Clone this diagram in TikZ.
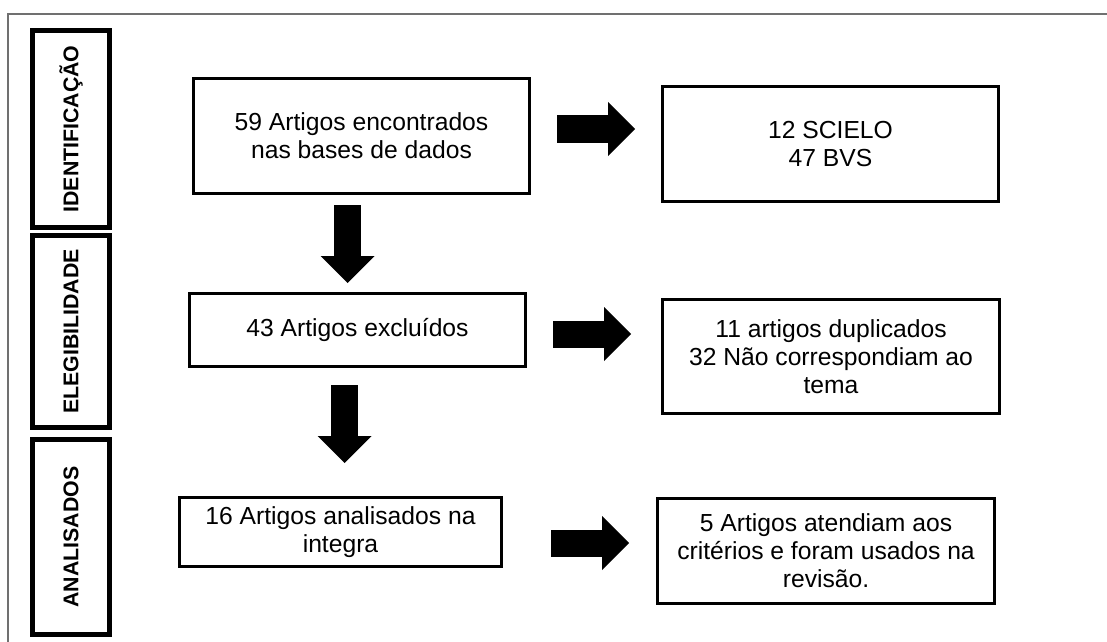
\documentclass[tikz,border=0pt]{standalone}
\usepackage{fontspec}
\setmainfont{Liberation Sans}
\usetikzlibrary{arrows.meta, positioning, calc}

\tikzset{
  box/.style={draw, line width=2.25pt, align=center, inner sep=0pt,
    font=\fontsize{18.5}{21}\selectfont},
  stage/.style={draw, line width=3.75pt, rotate=90, inner sep=0pt,
    minimum height=57.75pt, font=\fontsize{16}{19}\selectfont\bfseries},
  bigarrow/.style={line width=20.25pt,
    -{Triangle[width=40.5pt, length=20.25pt, line width=0pt]}},
}

\begin{document}
\begin{tikzpicture}[x=0.75pt, y=-0.75pt]
    \useasboundingbox (0,0) rectangle (1107,642);
    % Frame
    \draw[black!56, line width=1.1pt] (8,642) -- (8,14) -- (1107,14);
    % Stages
    \node[stage, minimum width=147.75pt] (ident) at (71,129) {IDENTIFICAÇÃO};
    \node[stage, minimum width=144pt] (eleg) at (71,331.5) {ELEGIBILIDADE};
    \node[stage, minimum width=146.25pt] (anal) at (71,537) {ANALISADOS};
    % Left column
    \node[box, minimum width=252pt, minimum height=86.25pt] (found) at (361.5,136)
        {59 Artigos encontrados\\nas bases de dados};
    \node[box, minimum width=252pt, minimum height=54.75pt] (excl) at (357.5,330)
        {43 Artigos excluídos};
    \node[box, minimum width=241.5pt, minimum height=51.75pt] (read) at (340.5,532)
        {16 Artigos analisados na\\integra};
    % Right column
    \node[box, minimum width=252pt, minimum height=86.25pt] (bases) at (830.5,144)
        {12 SCIELO\\47 BVS};
    \node[box, minimum width=252.75pt, minimum height=85.5pt] (why) at (831,356.5)
        {11 artigos duplicados\\32 Não correspondiam ao\\tema};
    \node[box, minimum width=252.75pt, minimum height=78.75pt] (used) at (826,551)
        {5 Artigos atendiam aos\\critérios e foram usados na\\revisão.};
    % Arrows down
    \coordinate (d1) at ([xshift=-10.5pt]found.south);
    \coordinate (d2) at ([xshift=-9.75pt]excl.south);
    \draw[bigarrow, shorten <=7.5pt, shorten >=6.75pt] (d1) -- (d1 |- excl.north);
    \draw[bigarrow, shorten <=12.75pt, shorten >=24.75pt] (d2) -- (d2 |- read.north);
    % Arrows right
    \coordinate (r1) at ([yshift=5.25pt]found.east);
    \coordinate (r2) at ([yshift=-3pt]excl.east);
    \coordinate (r3) at ([yshift=-8.25pt]read.east);
    \draw[bigarrow, shorten <=19.5pt, shorten >=19.5pt] (r1) -- (r1 -| bases.west);
    \draw[bigarrow, shorten <=19.5pt, shorten >=22.5pt] (r2) -- (r2 -| why.west);
    \draw[bigarrow, shorten <=36pt, shorten >=20.25pt] (r3) -- (r3 -| used.west);
\end{tikzpicture}
\end{document}
